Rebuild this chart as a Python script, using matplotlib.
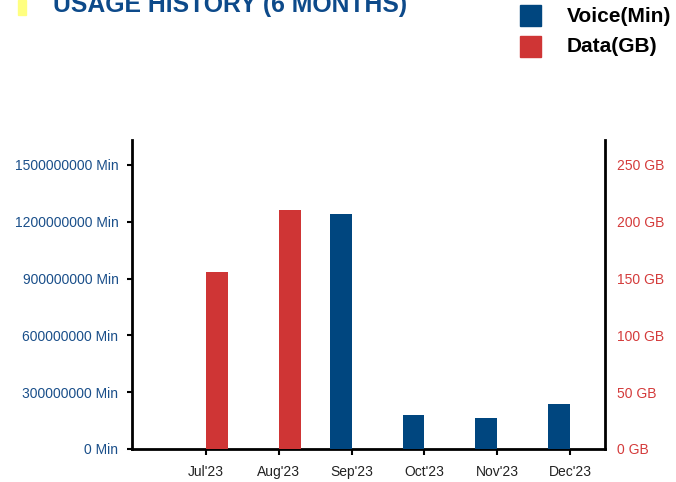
import matplotlib.pyplot as plt
import numpy as np
from matplotlib.patches import Rectangle

months = ["Jul'23", "Aug'23", "Sep'23", "Oct'23", "Nov'23", "Dec'23"]
voice_min = [0, 0, 1240000000, 180000000, 166000000, 237000000]
data_gb = [156, 210, 0, 0, 0, 0]
voice_ticks = [0, 300000000, 600000000, 900000000, 1200000000, 1500000000]
data_ticks = [0, 50, 100, 150, 200, 250]

blue = '#00467f'
red = '#cf3535'


def main():
	plt.rcParams['font.family'] = ['Liberation Sans', 'DejaVu Sans']

	fig = plt.figure(figsize=(6.76, 4.82), dpi=100)
	ax = fig.add_axes([132 / 676, 1 - 449 / 482, (605 - 132) / 676, (449 - 140) / 482])
	ax2 = ax.twinx()

	x = np.arange(len(months))
	w = 0.30
	ax.bar(x - w / 2, voice_min, w, color=blue, zorder=3)
	ax2.bar(x + w / 2, data_gb, w, color=red, zorder=3)

	ax.set_xlim(-1.016, 5.48)
	ax.set_ylim(0, 1632000000)
	ax2.set_ylim(0, 272)

	ax.set_xticks(x)
	ax.set_xticklabels(months, fontsize=10, color='#222222')
	ax.set_yticks(voice_ticks)
	ax.set_yticklabels(['%d Min' % v for v in voice_ticks], fontsize=10, color='#1a4f8a')
	ax2.set_yticks(data_ticks)
	ax2.set_yticklabels(['%d GB' % v for v in data_ticks], fontsize=10, color='#d43b3b')

	ax.tick_params(axis='x', direction='out', length=4.5, width=1.5, pad=7, color='black')
	ax.tick_params(axis='y', direction='out', length=3.8, width=1.5, pad=6)
	ax2.tick_params(axis='y', length=0, pad=8.5)

	for a in (ax, ax2):
		a.spines['top'].set_visible(False)
		for s in ('left', 'right', 'bottom'):
			a.spines[s].set_linewidth(2)
			a.spines[s].set_color('black')
	ax.spines['right'].set_visible(False)
	ax2.spines['left'].set_visible(False)
	ax2.spines['bottom'].set_visible(False)

	# header
	fig.patches.append(Rectangle((18 / 676, 1 - 15 / 482), 8 / 676, 15 / 482,
		transform=fig.transFigure, color='#ffff80', zorder=0))
	fig.text(53 / 676, 1 - 12 / 482, 'USAGE HISTORY (6 MONTHS)', fontsize=17.8,
		fontweight='bold', color='#0d4a8a', ha='left', va='baseline')

	# legend
	fig.patches.append(Rectangle((520 / 676, 1 - 26 / 482), 21 / 676, 21 / 482,
		transform=fig.transFigure, color=blue))
	fig.patches.append(Rectangle((520 / 676, 1 - 57 / 482), 21 / 676, 21 / 482,
		transform=fig.transFigure, color=red))
	fig.text(567 / 676, 1 - 16 / 482, 'Voice(Min)', fontsize=15, fontweight='bold',
		color='black', ha='left', va='center')
	fig.text(567 / 676, 1 - 47 / 482, 'Data(GB)', fontsize=15, fontweight='bold',
		color='black', ha='left', va='center')

	fig.savefig('out.png', dpi=100)


if __name__ == "__main__":
	main()
